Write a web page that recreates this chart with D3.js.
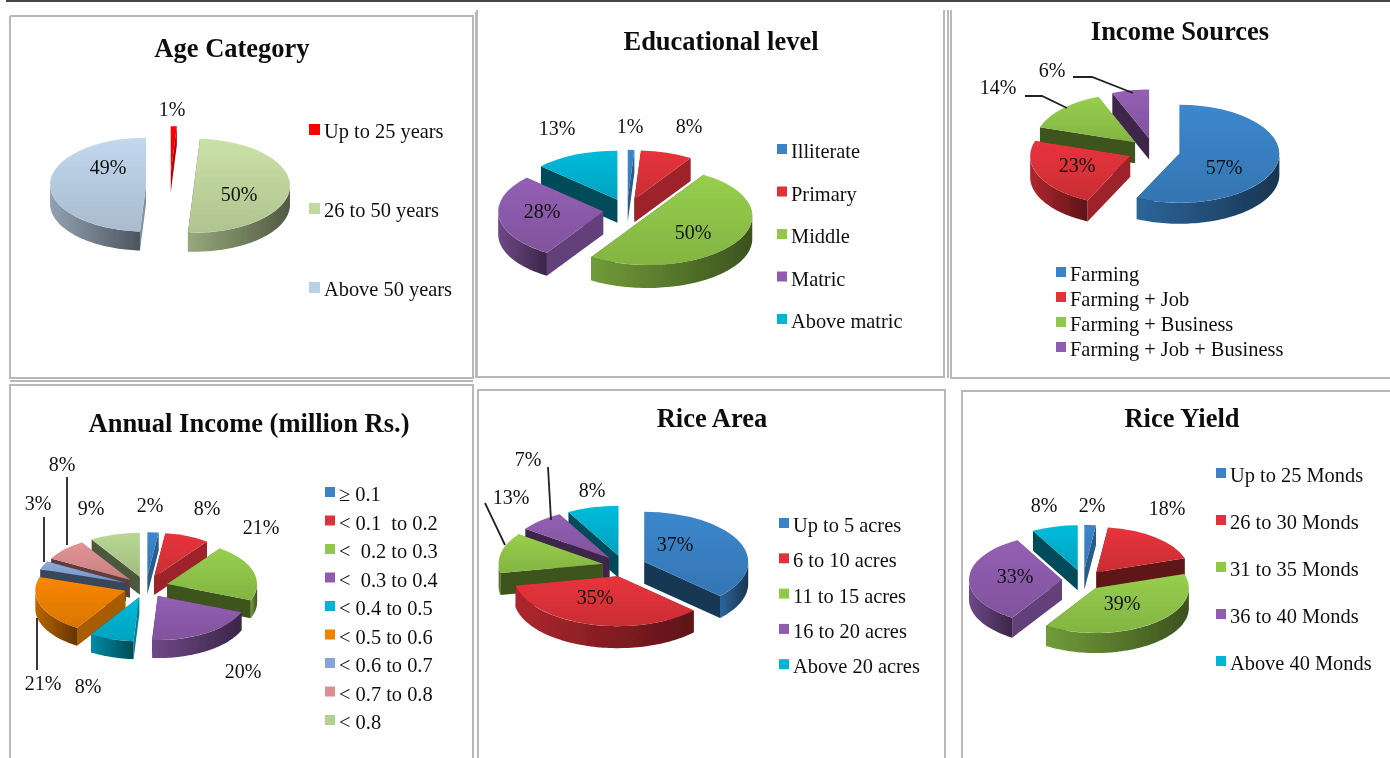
<!DOCTYPE html>
<html>
<head>
<meta charset="utf-8">
<script src="https://cdn.jsdelivr.net/npm/d3@7"></script>
<style>
  body { margin: 0; background: #fff; }
  text { font-family: "Liberation Serif", serif; fill: #111; white-space: pre; }
</style>
</head>
<body>
<div id="chart"></div>
<script>
// Values
const ageCategories = ["Up to 25 years", "26 to 50 years", "Above 50 years"];
const ageValues = [1, 50, 49];
const educationCategories = ["Illiterate", "Primary", "Middle", "Matric", "Above matric"];
const educationValues = [1, 8, 50, 28, 13];
const sourceCategories = ["Farming", "Farming + Job", "Farming + Business", "Farming + Job + Business"];
const sourceValues = [57, 23, 14, 6];
const incomeCategories = ["≥ 0.1", "< 0.1  to 0.2", "<  0.2 to 0.3", "<  0.3 to 0.4", "< 0.4 to 0.5",
    "< 0.5 to 0.6", "< 0.6 to 0.7", "< 0.7 to 0.8", "< 0.8"];
const incomeValues = [2, 8, 21, 20, 8, 21, 3, 8, 9];
const areaCategories = ["Up to 5 acres", "6 to 10 acres", "11 to 15 acres", "16 to 20 acres", "Above 20 acres"];
const areaValues = [37, 35, 13, 7, 8];
const yieldCategories = ["Up to 25 Monds", "26 to 30 Monds", "31 to 35 Monds", "36 to 40 Monds", "Above 40 Monds"];
const yieldValues = [2, 18, 39, 33, 8];

const officeColors = ["#3a82c6", "#e0323a", "#92c84a", "#8f5cae", "#00b4d4", "#f08200", "#86a4d4", "#dc8f90", "#b2d08e"];
const ageColors = ["#ff0000", "#c3d9a0", "#bbd0e6"];

const width = 1390, height = 758;

// Layout of each panel. labels = centre x and baseline of each percent label.
const panels = [
    {
        title: "Age Category", titleX: 232, titleY: 57,
        categories: ageCategories, values: ageValues, colors: ageColors,
        cx: 170, cy: 185, rx: 96, ry: 47, depth: 19, explode: 24,
        labels: [[172, 116], [239, 201], [108, 174]],
        legend: { x: 309, y: 124, step: 79, size: 11 }
    },
    {
        title: "Educational level", titleX: 721, titleY: 50,
        categories: educationCategories, values: educationValues, colors: officeColors,
        cx: 627, cy: 210, rx: 105, ry: 49, depth: 23, explode: 24,
        labels: [[630, 133], [689, 133], [693, 239], [542, 218], [557, 135]],
        legend: { x: 777, y: 144, step: 42.5, size: 10 }
    },
    {
        title: "Income Sources", titleX: 1180, titleY: 40,
        categories: sourceCategories, values: sourceValues, colors: officeColors,
        cx: 1154, cy: 151, rx: 100, ry: 49, depth: 21, explode: 26,
        labels: [[1224, 174], [1077, 172], [998, 94], [1052, 77]],
        legend: { x: 1056, y: 267, step: 25, size: 10 },
        leaders: [[[1025, 96], [1042, 96], [1067, 108]], [[1073, 77], [1092, 77], [1133, 93]]]
    },
    {
        title: "Annual Income (million Rs.)", titleX: 249, titleY: 432,
        categories: incomeCategories, values: incomeValues, colors: officeColors,
        cx: 146, cy: 587, rx: 90, ry: 44, depth: 18, explode: 22,
        labels: [[150, 512], [207, 515], [261, 534], [243, 678], [88, 693], [43, 690], [38, 510], [62, 471], [91, 515]],
        legend: { x: 325, y: 487, step: 28.5, size: 10 },
        leaders: [[[67, 477], [67, 545]], [[44, 517], [44, 562]], [[37, 618], [37, 670]]]
    },
    {
        title: "Rice Area", titleX: 712, titleY: 427,
        categories: areaCategories, values: areaValues, colors: officeColors,
        cx: 624, cy: 566, rx: 104, ry: 50, depth: 22, explode: 22,
        labels: [[675, 551], [595, 604], [511, 504], [528, 466], [592, 497]],
        legend: { x: 779, y: 518, step: 35.3, size: 10 },
        leaders: [[[485, 503], [505, 545]], [[548, 467], [551, 520]]]
    },
    {
        title: "Rice Yield", titleX: 1182, titleY: 427,
        categories: yieldCategories, values: yieldValues, colors: officeColors,
        cx: 1083, cy: 580, rx: 93, ry: 45, depth: 20, explode: 21,
        labels: [[1092, 512], [1167, 515], [1122, 610], [1015, 583], [1044, 512]],
        legend: { x: 1216, y: 468, step: 47, size: 10 }
    }
];

// The grey frames round the panels
const frameLines = [
    [[10, 16], [473, 16], [473, 378], [10, 378], [10, 16]],
    [[476, 12], [476, 378]],
    [[477, 10], [477, 377], [944, 377], [944, 10]],
    [[948, 10], [948, 378]],
    [[951, 10], [951, 378], [1390, 378]],
    [[10, 758], [10, 385], [473, 385], [473, 758]],
    [[10, 381], [473, 381]],
    [[478, 758], [478, 390], [945, 390], [945, 758]],
    [[962, 758], [962, 391], [1390, 391]]
];

const svg = d3.select("#chart").append("svg")
    .attr("width", width)
    .attr("height", height)
    .style("display", "block");

const defs = svg.append("defs");
defs.append("filter").attr("id", "soft")
    .attr("x", 0).attr("y", 0).attr("width", 1).attr("height", 1)
    .attr("filterUnits", "objectBoundingBox")
    .append("feGaussianBlur").attr("stdDeviation", 0.55);

const root = svg.append("g").attr("filter", "url(#soft)");
root.append("rect").attr("width", width).attr("height", height).attr("fill", "#fff");

const line = d3.line();

root.append("line")
    .attr("x1", 6).attr("x2", width).attr("y1", 1).attr("y2", 1)
    .attr("stroke", "#444").attr("stroke-width", 2);

root.append("g").selectAll("path")
    .data(frameLines)
    .join("path")
    .attr("d", line)
    .attr("fill", "none")
    .attr("stroke", "#b8b8b8")
    .attr("stroke-width", 2);

// gradients are shared by colour
let gradientCount = 0;
const gradientIds = new Map();
function gradient(color, kind) {
    const key = color + kind;
    if (gradientIds.has(key)) return "url(#" + gradientIds.get(key) + ")";
    const id = "grad" + (gradientCount++);
    gradientIds.set(key, id);
    const g = defs.append("linearGradient").attr("id", id);
    if (kind === "top") {
        g.attr("x1", 0).attr("y1", 0).attr("x2", 0).attr("y2", 1);
        g.append("stop").attr("offset", 0).attr("stop-color", d3.color(color).brighter(0.1));
        g.append("stop").attr("offset", 1).attr("stop-color", d3.color(color).darker(0.3));
    } else {
        g.attr("x1", 0).attr("y1", 0).attr("x2", 1).attr("y2", 0);
        g.append("stop").attr("offset", 0).attr("stop-color", d3.color(color).darker(0.7));
        g.append("stop").attr("offset", 1).attr("stop-color", d3.color(color).darker(2.5));
    }
    return "url(#" + id + ")";
}

function drawPanel(p) {
    const panel = root.append("g");
    const ratio = p.ry / p.rx;
    const color = d3.scaleOrdinal(p.categories, p.colors);

    const slices = d3.pie().sort(null)(p.values).map((s, i) => {
        const mid = (s.startAngle + s.endAngle) / 2;
        return {
            ...s,
            category: p.categories[i],
            mid: mid,
            ox: p.cx + p.explode * Math.sin(mid),
            oy: p.cy - p.explode * Math.cos(mid) * ratio
        };
    });

    // back slices first, so the front ones cover them
    slices.sort((a, b) => -Math.cos(a.mid) - -Math.cos(b.mid));

    const arc = d3.arc().innerRadius(0).outerRadius(p.rx);

    const slice = panel.append("g").selectAll("g")
        .data(slices)
        .join("g");

    slice.each(function(d) {
        const g = d3.select(this);
        const c = color(d.category);
        const edge = a => [d.ox + p.rx * Math.sin(a), d.oy - p.ry * Math.cos(a)];
        const drop = pt => [pt[0], pt[1] + p.depth];
        const apex = [d.ox, d.oy];

        // cut faces: the ones turned to the right catch more light
        const walls = [
            { angle: d.startAngle, side: -1 },
            { angle: d.endAngle, side: 1 }
        ].map(w => {
            const e = edge(w.angle);
            return {
                points: [apex, e, drop(e), drop(apex)],
                facing: w.side * Math.cos(w.angle),
                front: w.side * Math.sin(w.angle)
            };
        }).sort((a, b) => a.front - b.front);

        g.selectAll("path.wall")
            .data(walls)
            .join("path")
            .attr("class", "wall")
            .attr("d", w => line(w.points) + "Z")
            .attr("fill", w => d3.color(c).darker(w.facing > 0.5 ? 1 : 2.4));

        // only the part of the rim that faces the viewer
        const from = Math.max(d.startAngle, Math.PI / 2);
        const to = Math.min(d.endAngle, Math.PI * 1.5);
        if (to > from) {
            const angles = d3.range(from, to, 0.03).concat([to]);
            const upper = angles.map(edge);
            const lower = upper.map(drop).reverse();
            g.append("path")
                .attr("d", line(upper.concat(lower)) + "Z")
                .attr("fill", gradient(c, "rim"));
        }

        g.append("path")
            .attr("d", arc(d))
            .attr("transform", `translate(${d.ox},${d.oy}) scale(1,${ratio})`)
            .attr("fill", gradient(c, "top"));
    });

    panel.append("g").selectAll("path")
        .data(p.leaders || [])
        .join("path")
        .attr("d", line)
        .attr("fill", "none")
        .attr("stroke", "#222")
        .attr("stroke-width", 1.8);

    panel.append("text")
        .attr("x", p.titleX).attr("y", p.titleY)
        .attr("text-anchor", "middle")
        .attr("font-size", 26.5)
        .attr("font-weight", "bold")
        .text(p.title);

    panel.append("g").selectAll("text")
        .data(p.values)
        .join("text")
        .attr("x", (d, i) => p.labels[i][0])
        .attr("y", (d, i) => p.labels[i][1])
        .attr("text-anchor", "middle")
        .attr("font-size", 20)
        .text(d => d + "%");

    const legend = panel.append("g").selectAll("g")
        .data(p.categories)
        .join("g")
        .attr("transform", (d, i) => `translate(${p.legend.x},${p.legend.y + i * p.legend.step})`);

    legend.append("rect")
        .attr("width", p.legend.size)
        .attr("height", p.legend.size)
        .attr("fill", d => color(d));

    legend.append("text")
        .attr("x", p.legend.size + 4)
        .attr("y", 14)
        .attr("font-size", 20.4)
        .text(d => d);
}

panels.forEach(drawPanel);
</script>
</body>
</html>
